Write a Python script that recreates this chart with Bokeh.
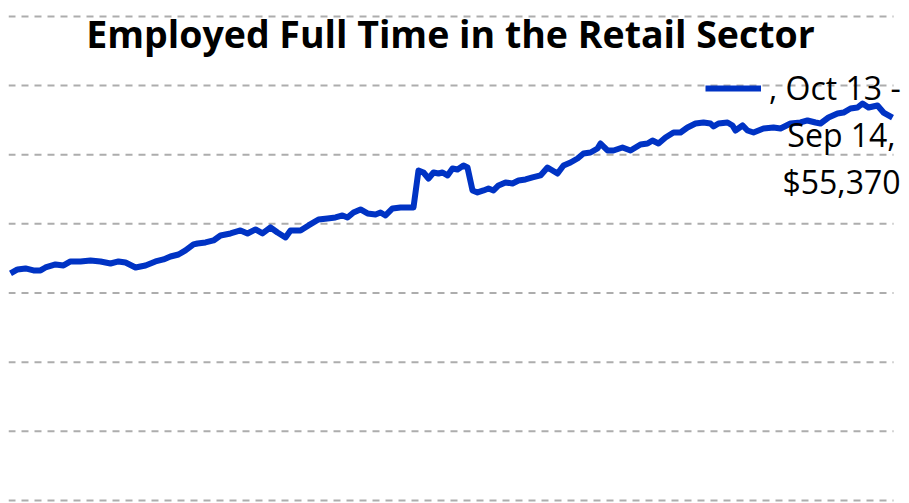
from bokeh.plotting import figure
from bokeh.models import Range1d, Label, Legend, LegendItem
from bokeh.embed import file_html
from bokeh.resources import INLINE

# months since start of series
months = [0, 1.4, 3, 4.6, 6, 7, 9, 10.6, 12, 14, 16, 18, 20, 21.6, 23, 25, 27, 29, 30.6, 32,
          33.6, 35, 36.6, 37.4, 39, 40.6, 42, 44, 46, 47.4, 49, 50.4, 52, 53.4, 55, 56, 58, 59.6,
          61.6, 63.4, 65, 66.4, 67.4, 68.6, 70, 71.4, 73, 74, 75, 76.4, 78, 80.6, 81.6, 82.6, 83.6,
          84.6, 85.6, 86.4, 87.4, 88.4, 89.4, 90.6, 91.4, 92.4, 93.4, 94.6, 95.6, 96.6, 97.6, 99,
          100.4, 101.6, 103, 104.4, 106, 107.4, 108.4, 109.4, 110.6, 112, 113.4, 114.6, 116, 117.4,
          118, 119.4, 120.6, 122.4, 124, 126, 127.4, 128.4, 129.6, 131, 132.6, 134, 135.4, 137,
          138.6, 140, 140.6, 141.6, 143.4, 144.4, 145, 146.4, 147.4, 148.6, 150.6, 152.6, 154, 156,
          158, 159.4, 161, 162, 163.6, 165.4, 166.6, 168, 169.4, 170.4, 171.6, 173.4, 174.6, 176.4]

earnings = [32825, 33400, 33550, 33260, 33260, 33690, 34130, 33980, 34560, 34560, 34700, 34560,
            34270, 34560, 34410, 33690, 33980, 34560, 34850, 35280, 35570, 36150, 37020, 37160,
            37310, 37600, 38320, 38610, 39040, 38610, 39190, 38610, 39480, 38750, 38030, 39040,
            39040, 39770, 40630, 40780, 40920, 41210, 40920, 41640, 42080, 41500, 41360, 41640,
            41210, 42220, 42370, 42370, 47720, 47430, 46560, 47430, 47280, 47430, 47000, 48010,
            47860, 48440, 48150, 44830, 44540, 44830, 45120, 44830, 45550, 45980, 45840, 46270,
            46420, 46710, 47000, 48150, 47720, 47280, 48440, 48870, 49450, 50180, 50320, 50900,
            51620, 50610, 50610, 51040, 50610, 51480, 51620, 52060, 51620, 52490, 53210, 53210,
            53940, 54510, 54660, 54510, 54080, 54510, 54660, 54230, 53500, 54230, 53500, 53210,
            53790, 53940, 53790, 54510, 54660, 54950, 54660, 54510, 55380, 55960, 56100, 56680,
            56830, 57410, 56830, 57120, 56100, 55380]

y_ticks = [0, 10000, 20000, 30000, 40000, 50000, 60000, 70000]
title_text = "Employed Full Time in the Retail Sector"
legend_lines = [", Oct 13 -", "Sep 14,", "$55,370"]

x_lo, x_hi = -0.4, 176.6

p = figure(width=909, height=503, output_backend="svg", toolbar_location=None,
           x_range=Range1d(x_lo, 179.8), y_range=Range1d(-300, 71000),
           min_border_left=8, min_border_right=0, min_border_top=9, min_border_bottom=1)
p.outline_line_color = None
p.axis.visible = False
p.grid.visible = False

# horizontal dashed gridlines at the value ticks
p.segment(x0=[x_lo] * len(y_ticks), x1=[x_hi] * len(y_ticks), y0=y_ticks, y1=y_ticks,
          line_color="#adadad", line_width=2, line_dash="7 6")

r = p.line(months, earnings, line_color="#0033c4", line_width=6, line_join="round")

legend = Legend(items=[LegendItem(label=legend_lines[0], renderers=[r])],
                location=(697, 393), orientation="vertical",
                glyph_width=56, glyph_height=30, label_standoff=8,
                label_text_font="Open Sans", label_text_font_size="32px",
                label_text_color="#000000",
                padding=0, margin=0, spacing=0,
                border_line_color=None, background_fill_alpha=0)
p.add_layout(legend, "center")

for i, t in enumerate(legend_lines[1:]):
    p.add_layout(Label(x=833, y=368 - i * 47, x_units="screen", y_units="screen", text=t,
                       text_align="center", text_baseline="alphabetic",
                       text_font="Open Sans", text_font_size="32px", text_color="#000000"))

p.add_layout(Label(x=442, y=469, x_units="screen", y_units="screen", text=title_text,
                   text_align="center", text_baseline="alphabetic",
                   text_font="Open Sans", text_font_size="37.5px", text_font_style="bold",
                   text_color="#000000"))

open("out.html", "w").write(file_html(p, INLINE))
